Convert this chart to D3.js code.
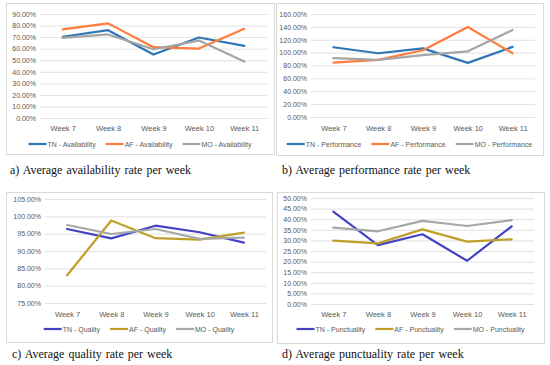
<!DOCTYPE html>
<html>
<head>
<meta charset="utf-8">
<script src="https://cdn.jsdelivr.net/npm/d3@7"></script>
<style>
  body { margin: 0; background: #fff; }
  svg { display: block; }
</style>
</head>
<body>
<div id="chart"></div>
<script>

// categories
var weeks = ["Week 7", "Week 8", "Week 9", "Week 10", "Week 11"];

// a) availability
var tnAvailability = [0.703, 0.760, 0.549, 0.697, 0.624];
var afAvailability = [0.767, 0.819, 0.613, 0.601, 0.772];
var moAvailability = [0.694, 0.723, 0.595, 0.670, 0.488];

// b) performance
var tnPerformance = [1.084, 0.990, 1.066, 0.841, 1.089];
var afPerformance = [0.846, 0.888, 1.037, 1.399, 0.990];
var moPerformance = [0.914, 0.888, 0.960, 1.020, 1.352];

// c) quality
var tnQuality = [0.9635, 0.9365, 0.9730, 0.9540, 0.9240];
var afQuality = [0.8300, 0.9880, 0.9370, 0.9330, 0.9530];
var moQuality = [0.9750, 0.9490, 0.9635, 0.9350, 0.9385];

// d) punctuality
var tnPunctuality = [0.436, 0.278, 0.329, 0.204, 0.366];
var afPunctuality = [0.299, 0.286, 0.352, 0.294, 0.305];
var moPunctuality = [0.360, 0.343, 0.392, 0.368, 0.396];

// tick values
var ticksA = [0, 0.1, 0.2, 0.3, 0.4, 0.5, 0.6, 0.7, 0.8, 0.9];
var ticksB = [0, 0.2, 0.4, 0.6, 0.8, 1.0, 1.2, 1.4, 1.6];
var ticksC = [0.75, 0.80, 0.85, 0.90, 0.95, 1.00, 1.05];
var ticksD = [0, 0.05, 0.10, 0.15, 0.20, 0.25, 0.30, 0.35, 0.40, 0.45, 0.50];

var colorsAB = ["#2E75B6", "#FF7C3A", "#A5A5A5"];
var colorsCD = ["#4343C3", "#BF9F2A", "#A5A8A6"];

var svg = d3.select("#chart")
    .append("svg")
    .attr("width", 550)
    .attr("height", 365);

var fontSans = "'Liberation Sans', Arial, sans-serif";
var fontSerif = "'Liberation Serif', 'Times New Roman', serif";

function drawPanel(value) {

    // panel frame
    svg.append("rect")
        .attr("x", value.box[0] + 0.5)
        .attr("y", value.box[1] + 0.5)
        .attr("width", value.box[2] - value.box[0])
        .attr("height", value.box[3] - value.box[1])
        .attr("fill", "#fff")
        .attr("stroke", "#D9D9D9")
        .attr("stroke-width", 1);

    var x = d3.scalePoint()
        .domain(weeks)
        .range([value.plot.left, value.plot.right])
        .padding(0.5);

    var y = d3.scaleLinear()
        .domain(value.domain)
        .range([value.plot.bottom, value.plot.top]);

    var g = svg.append("g");

    // gridlines
    var yaxis = g.append("g")
        .attr("transform", "translate(" + value.plot.left + ",0)")
        .call(d3.axisLeft(y)
            .tickValues(value.ticks)
            .tickSize(-(value.plot.right - value.plot.left))
            .tickPadding(4)
            .tickFormat(function (d) { return (d * 100).toFixed(2) + "%"; }));

    yaxis.select(".domain").remove();
    yaxis.selectAll("line")
        .style("stroke", "#D9D9D9")
        .style("stroke-width", 0.8);
    yaxis.selectAll("text")
        .style("fill", "#595959")
        .style("font-family", fontSans)
        .style("font-size", "7px");

    // x axis labels
    var xaxis = g.append("g")
        .attr("transform", "translate(0," + value.plot.bottom + ")")
        .call(d3.axisBottom(x).tickSize(0).tickPadding(value.labelPad));

    xaxis.select(".domain").remove();
    xaxis.selectAll("text")
        .style("fill", "#595959")
        .style("font-family", fontSans)
        .style("font-size", "7.5px");

    // lines
    value.series.forEach(function (s, i) {
        g.append("path")
            .datum(s.data)
            .attr("fill", "none")
            .attr("stroke", value.colors[i])
            .attr("stroke-width", 2.2)
            .attr("stroke-linejoin", "round")
            .attr("stroke-linecap", "round")
            .attr("d", d3.line()
                .x(function (d, j) { return x(weeks[j]); })
                .y(function (d) { return y(d); }));
    });

    // legend, centred on the panel like Excel
    var legend = g.append("g");
    var items = [];
    value.series.forEach(function (s, i) {
        var item = legend.append("g");
        item.append("line")
            .attr("x1", 0).attr("x2", 18)
            .attr("y1", 0).attr("y2", 0)
            .attr("stroke", value.colors[i])
            .attr("stroke-width", 2.2);
        var t = item.append("text")
            .attr("x", 19)
            .attr("y", 2.5)
            .style("fill", "#595959")
            .style("font-family", fontSans)
            .style("font-size", "7px")
            .text(s.name);
        items.push({ node: item, w: 19 + t.node().getComputedTextLength() });
    });
    var gap = 10;
    var total = d3.sum(items, function (d) { return d.w; }) + gap * (items.length - 1);
    var lx = (value.box[0] + value.box[2]) / 2 - total / 2;
    items.forEach(function (d) {
        d.node.attr("transform", "translate(" + lx + "," + value.legendY + ")");
        lx += d.w + gap;
    });

    // caption below
    svg.append("text")
        .attr("x", value.caption.x)
        .attr("y", value.caption.y)
        .style("font-family", fontSerif)
        .style("font-size", "12px")
        .style("word-spacing", "1px")
        .style("fill", "#111")
        .text(value.caption.text);
}

drawPanel({
    box: [6, 3, 274, 154],
    plot: { left: 40, right: 267, top: 14, bottom: 118 },
    domain: [0, 0.9],
    ticks: ticksA,
    labelPad: 8,
    legendY: 144,
    colors: colorsAB,
    series: [
        { name: "TN - Availability", data: tnAvailability },
        { name: "AF - Availability", data: afAvailability },
        { name: "MO - Availability", data: moAvailability }
    ],
    caption: { x: 10, y: 174, text: "a) Average availability rate per week" }
});

drawPanel({
    box: [276, 3, 543, 155],
    plot: { left: 311, right: 535, top: 14, bottom: 117 },
    domain: [0, 1.6],
    ticks: ticksB,
    labelPad: 9,
    legendY: 144,
    colors: colorsAB,
    series: [
        { name: "TN - Performance", data: tnPerformance },
        { name: "AF - Performance", data: afPerformance },
        { name: "MO - Performance", data: moPerformance }
    ],
    caption: { x: 282, y: 174, text: "b) Average performance rate per week" }
});

drawPanel({
    box: [6, 192, 272, 342],
    plot: { left: 45, right: 266, top: 199, bottom: 303 },
    domain: [0.75, 1.05],
    ticks: ticksC,
    labelPad: 9,
    legendY: 329,
    colors: colorsCD,
    series: [
        { name: "TN - Quality", data: tnQuality },
        { name: "AF - Quality", data: afQuality },
        { name: "MO - Quality", data: moQuality }
    ],
    caption: { x: 12, y: 358, text: "c) Average quality rate per week" }
});

drawPanel({
    box: [277, 192, 544, 343],
    plot: { left: 311, right: 534, top: 198, bottom: 304 },
    domain: [0, 0.5],
    ticks: ticksD,
    labelPad: 8,
    legendY: 329,
    colors: colorsCD,
    series: [
        { name: "TN - Punctuality", data: tnPunctuality },
        { name: "AF - Punctuality", data: afPunctuality },
        { name: "MO - Punctuality", data: moPunctuality }
    ],
    caption: { x: 282, y: 358, text: "d) Average punctuality rate per week" }
});

</script>
</body>
</html>
